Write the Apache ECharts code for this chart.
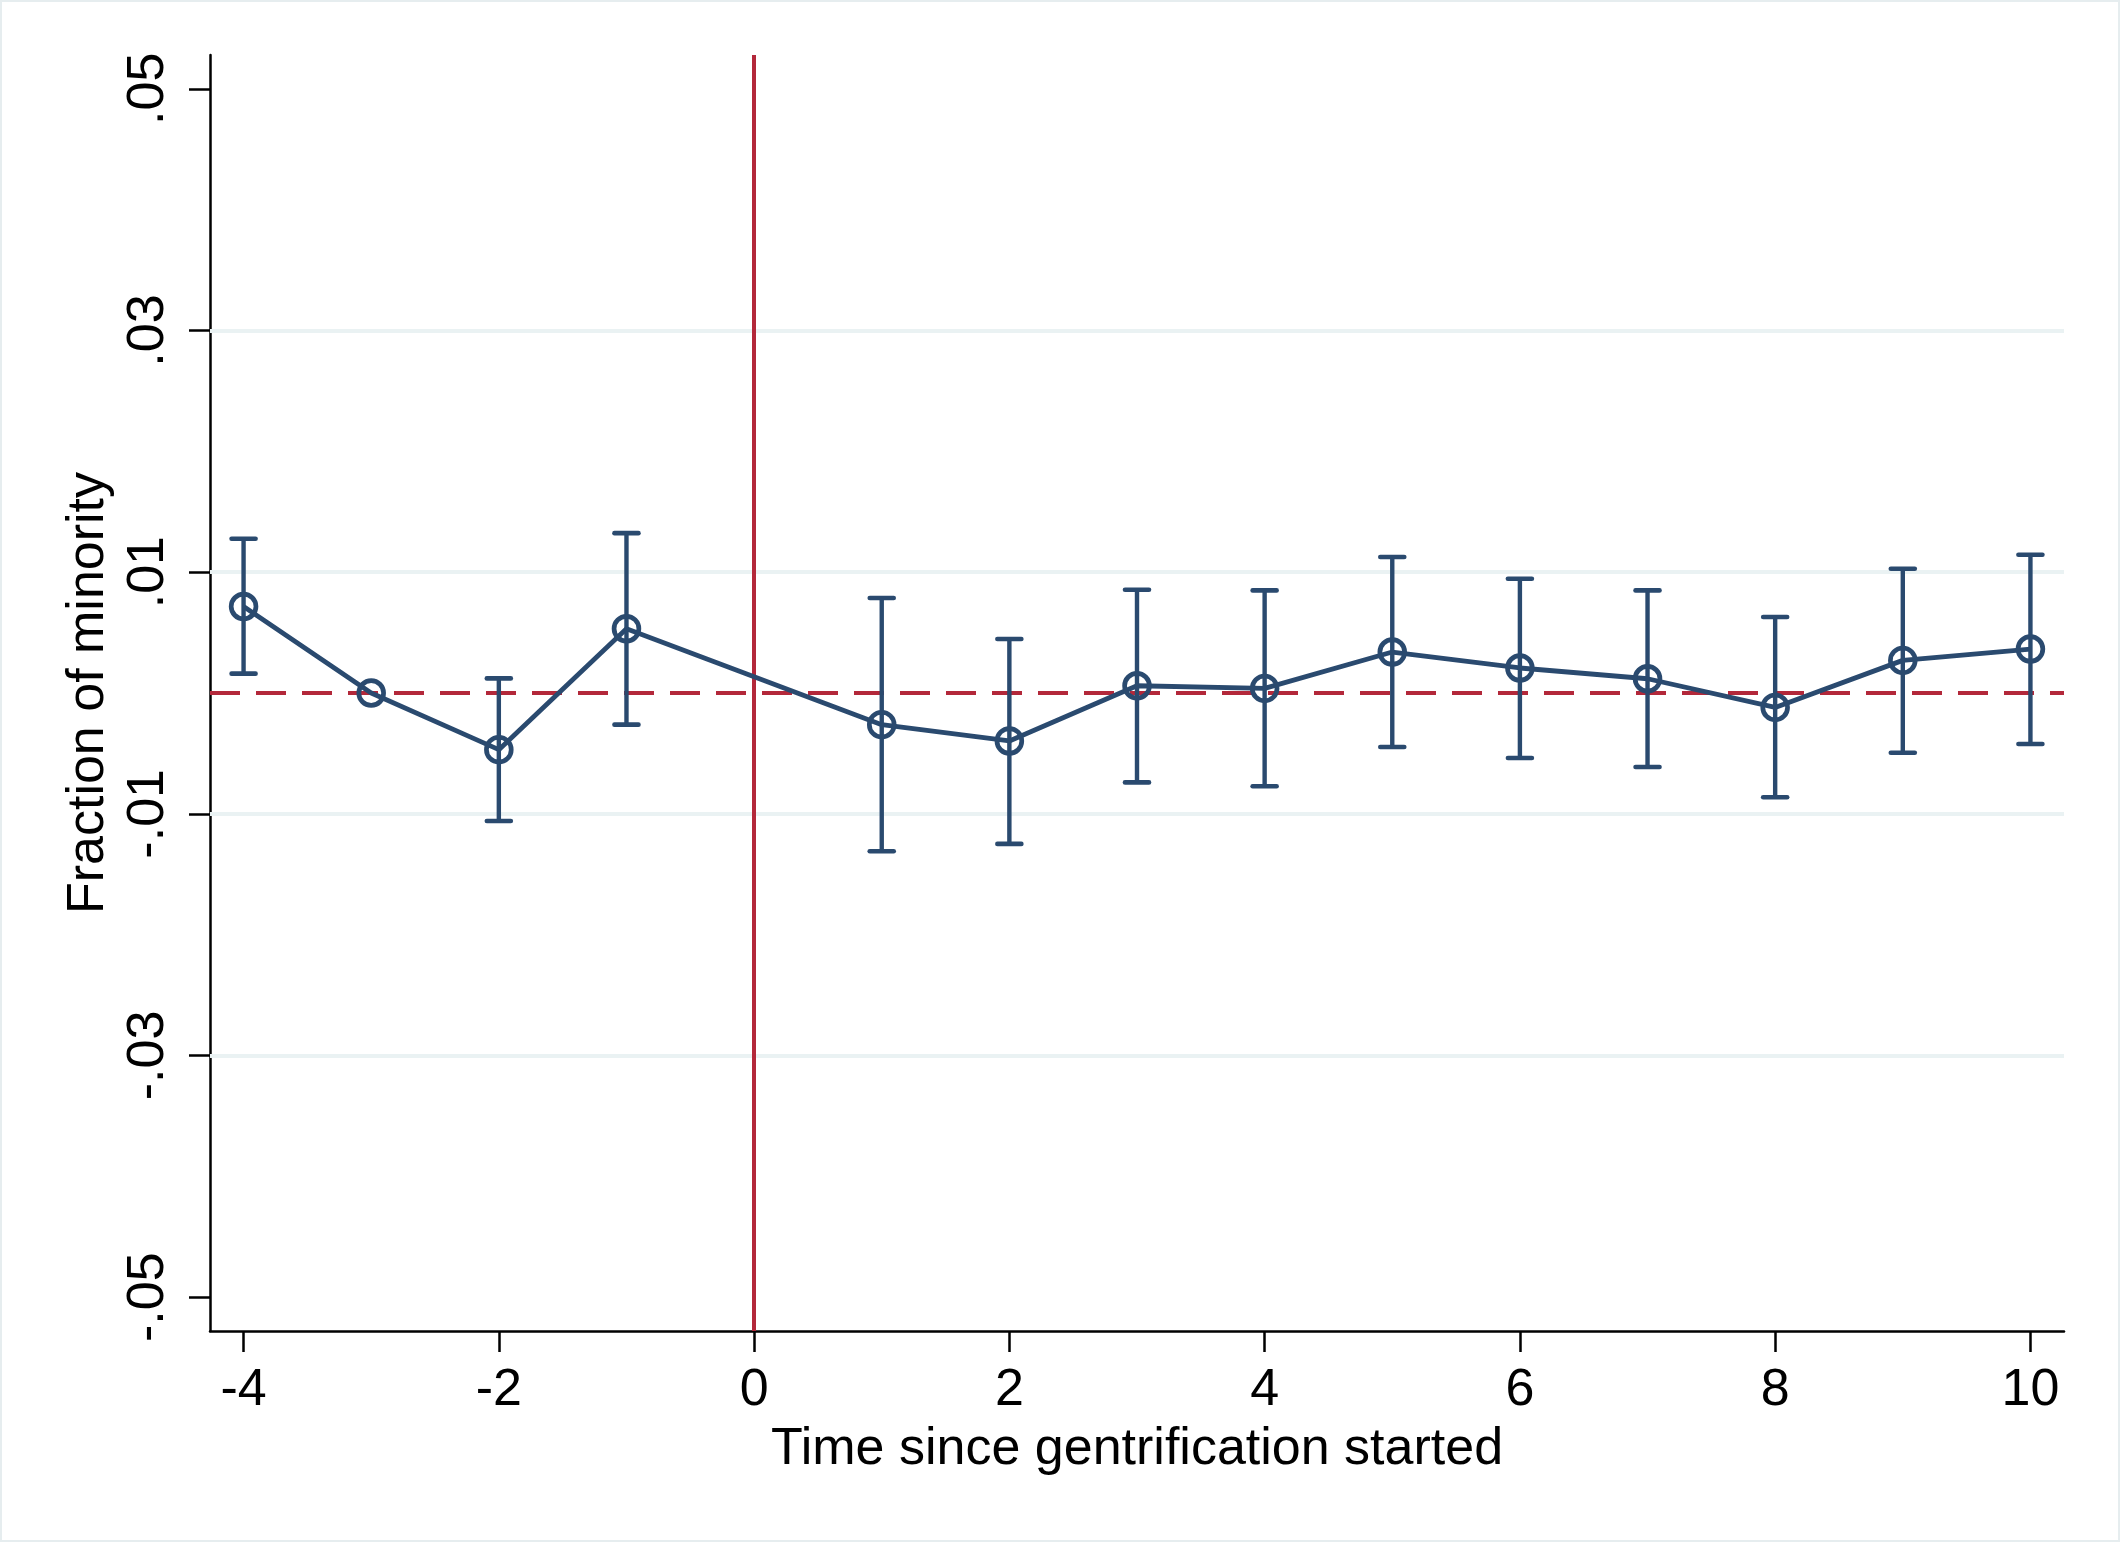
<!DOCTYPE html>
<html>
<head>
<meta charset="utf-8">
<script src="https://cdn.jsdelivr.net/npm/echarts@6/dist/echarts.min.js"></script>
<style>
html,body{margin:0;padding:0;background:#fff;}
#wrap{width:2120px;height:1542px;box-sizing:border-box;border:2px solid #e6edef;background:#fff;}
#chart{width:100%;height:100%;}
</style>
</head>
<body>
<div id="wrap"><div id="chart"></div></div>
<script>
// ---- data ----
const periods = [-4, -3, -2, -1, 1, 2, 3, 4, 5, 6, 7, 8, 9, 10];
const coef    = [0.00716, 0, -0.00469, 0.00532, -0.00262, -0.00397, 0.0006, 0.00038, 0.00339, 0.00207, 0.00118, -0.00119, 0.0027, 0.00364];
const ciLow   = [0.0016, null, -0.01059, -0.00262, -0.0131, -0.01249, -0.0074, -0.00772, -0.00447, -0.00538, -0.00612, -0.00863, -0.00494, -0.00422];
const ciHigh  = [0.01276, null, 0.00121, 0.01323, 0.00786, 0.00447, 0.00854, 0.00849, 0.01125, 0.00945, 0.00849, 0.00629, 0.01028, 0.01144];
const xTicks  = [-4, -2, 0, 2, 4, 6, 8, 10];
const yTicks  = [-0.05, -0.03, -0.01, 0.01, 0.03, 0.05];
const yGrid   = [-0.03, -0.01, 0.01, 0.03];
const xTitle  = 'Time since gentrification started';
const yTitle  = 'Fraction of minority';

const NAVY = '#2a4a6f';
const RED  = '#b3283a';
const GRID = '#eaf2f3';
const FONT = "'Liberation Sans', Arial, Helvetica, sans-serif";

const lineData = periods.map((p, i) => [p, coef[i]]);
const ciData = [];
periods.forEach((p, i) => { if (ciLow[i] !== null) ciData.push([p, ciLow[i], ciHigh[i]]); });

function fmtY(v) {
  const s = Math.abs(v).toFixed(2).replace(/^0/, '');
  return (v < 0 ? '-' : '') + s;
}

const chart = echarts.init(document.getElementById('chart'), null, {renderer: 'canvas'});
chart.setOption({
  animation: false,
  backgroundColor: '#fff',
  textStyle: {fontFamily: FONT},
  grid: {left: 208, right: 54, top: 53, bottom: 209, containLabel: false},
  xAxis: {
    type: 'value', min: -4.263, max: 10.263,
    axisLine: {show: true, onZero: false, lineStyle: {color: '#000', width: 2.5}},
    axisTick: {show: true, length: 21, lineStyle: {color: '#000', width: 2.5}, customValues: xTicks},
    axisLabel: {show: true, customValues: xTicks, fontSize: 52, color: '#000', margin: 34, fontFamily: FONT},
    splitLine: {show: false},
    name: xTitle, nameLocation: 'middle', nameGap: 93,
    nameTextStyle: {fontSize: 52, color: '#000', fontFamily: FONT}
  },
  yAxis: {
    type: 'value', min: -0.0528, max: 0.0528,
    axisLine: {show: true, onZero: false, lineStyle: {color: '#000', width: 2.5}},
    axisTick: {show: true, length: 21, lineStyle: {color: '#000', width: 2.5}, customValues: yTicks},
    axisLabel: {show: true, customValues: yTicks, rotate: 90, fontSize: 52, color: '#000', margin: 35,
                fontFamily: FONT, formatter: fmtY},
    splitLine: {show: false},
    name: yTitle, nameLocation: 'middle', nameGap: 84, nameRotate: 90,
    nameTextStyle: {fontSize: 52, color: '#000', fontFamily: FONT}
  },
  series: [
    {
      type: 'line', data: [], z: 1, silent: true,
      markLine: {
        silent: true, symbol: ['none', 'none'], label: {show: false},
        lineStyle: {color: GRID, width: 4, type: 'solid'},
        data: yGrid.map(v => ({yAxis: v}))
      }
    },
    {
      type: 'line', data: [], z: 2, silent: true,
      markLine: {
        silent: true, symbol: ['none', 'none'], label: {show: false},
        data: [
          {yAxis: 0, lineStyle: {color: RED, width: 4, type: [30, 16]}},
          {xAxis: 0, lineStyle: {color: RED, width: 4, type: 'solid'}}
        ]
      }
    },
    {
      type: 'line', data: lineData, z: 5, symbol: 'none', silent: true,
      lineStyle: {color: NAVY, width: 4.8}
    },
    {
      type: 'custom', z: 6, silent: true,
      data: ciData,
      renderItem: function (params, api) {
        const x = api.value(0);
        const pLo = api.coord([x, api.value(1)]);
        const pHi = api.coord([x, api.value(2)]);
        const hw = 12;
        const st = {stroke: NAVY, lineWidth: 4.6, lineCap: 'round', fill: null};
        return {type: 'group', children: [
          {type: 'line', shape: {x1: pLo[0], y1: pLo[1], x2: pHi[0], y2: pHi[1]}, style: {stroke: NAVY, lineWidth: 4.4, fill: null}},
          {type: 'line', shape: {x1: pLo[0] - hw, y1: pLo[1], x2: pLo[0] + hw, y2: pLo[1]}, style: st},
          {type: 'line', shape: {x1: pHi[0] - hw, y1: pHi[1], x2: pHi[0] + hw, y2: pHi[1]}, style: st}
        ]};
      }
    },
    {
      type: 'custom', z: 7, silent: true,
      data: lineData,
      renderItem: function (params, api) {
        const p = api.coord([api.value(0), api.value(1)]);
        return {type: 'circle', shape: {cx: p[0], cy: p[1], r: 12.4},
                style: {stroke: NAVY, lineWidth: 4.7, fill: null}};
      }
    }
  ]
});
</script>
</body>
</html>
